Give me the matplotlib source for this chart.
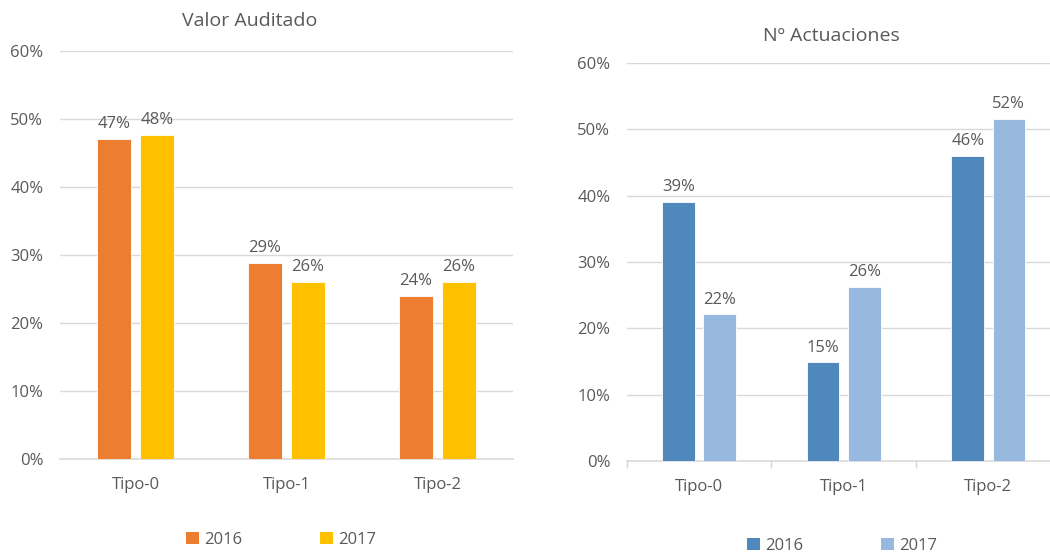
import matplotlib.pyplot as plt
import numpy as np
from matplotlib.patches import Patch

plt.rcParams['font.family'] = ['Open Sans', 'DejaVu Sans']

TEXT_GRAY = '#595959'
GRID_GRAY = '#D9D9D9'

categories = ['Tipo-0', 'Tipo-1', 'Tipo-2']
years = ['2016', '2017']

# Valor Auditado (%)
valor_2016 = [47.1, 28.8, 24.0]
valor_2017 = [47.7, 26.0, 26.1]

# Nº Actuaciones (%)
actu_2016 = [39.1, 14.9, 46.0]
actu_2017 = [22.1, 26.3, 51.6]

valor_colors = ['#ED7D31', '#FFC000']
actu_colors = ['#4F88BD', '#97B9E0']

BAR_W = 0.225
OFFSET = 0.142
FS = 12


def draw_panel(ax, s2016, s2017, colors, with_ticks):
    x = np.arange(len(categories))
    for vals, off, col in [(s2016, -OFFSET, colors[0]), (s2017, OFFSET, colors[1])]:
        bars = ax.bar(x + off, vals, BAR_W, color=col, edgecolor='white',
                      linewidth=0.6, zorder=3)
        for b, v in zip(bars, vals):
            ax.text(b.get_x() + b.get_width() / 2, v + 1.0, f'{v:.0f}%',
                    ha='center', va='bottom', fontsize=FS, color=TEXT_GRAY)
    ax.set_xlim(-0.5, 2.5)
    ax.set_ylim(0, 60)
    ax.set_yticks(range(0, 61, 10))
    ax.set_yticklabels([f'{t}%' for t in range(0, 61, 10)])
    ax.set_xticks(x)
    ax.set_xticklabels(categories)
    ax.yaxis.grid(True, color=GRID_GRAY, linewidth=1, zorder=0)
    ax.set_axisbelow(True)
    for s in ['top', 'right', 'left']:
        ax.spines[s].set_visible(False)
    ax.spines['bottom'].set_color(GRID_GRAY)
    ax.spines['bottom'].set_linewidth(1.2)
    ax.tick_params(axis='y', length=0, pad=12, labelsize=FS, labelcolor=TEXT_GRAY)
    ax.tick_params(axis='x', length=0, pad=13, labelsize=FS, labelcolor=TEXT_GRAY)
    if with_ticks:
        ax.set_xticks([-0.5, 0.5, 1.5], minor=True)
        ax.tick_params(axis='x', which='minor', length=5, color=GRID_GRAY, width=1)


fig = plt.figure(figsize=(10.5, 5.52), dpi=100)
ax1 = fig.add_axes([0.0571, 0.1685, 0.4314, 0.7391])
ax2 = fig.add_axes([0.5971, 0.1649, 0.4129, 0.7210])

draw_panel(ax1, valor_2016, valor_2017, valor_colors, False)
draw_panel(ax2, actu_2016, actu_2017, actu_colors, True)

fig.text(250 / 1050, 1 - 21 / 552, 'Valor Auditado', ha='center', va='center',
         fontsize=14, color=TEXT_GRAY)
fig.text(831 / 1050, 1 - 36 / 552, 'Nº Actuaciones', ha='center', va='center',
         fontsize=14, color=TEXT_GRAY)

for colors, cx, cy in [(valor_colors, 281 / 1050, 1 - 540 / 552),
                       (actu_colors, 842 / 1050, 1 - 546 / 552)]:
    handles = [Patch(facecolor=c, edgecolor='none', label=y) for c, y in zip(colors, years)]
    leg = fig.legend(handles=handles, loc='center', bbox_to_anchor=(cx, cy), ncol=2,
                     frameon=False, fontsize=FS, handlelength=0.75, handleheight=0.75,
                     handletextpad=0.3, columnspacing=4.7, borderpad=0)
    for t in leg.get_texts():
        t.set_color(TEXT_GRAY)

fig.savefig('out.png', dpi=100)
